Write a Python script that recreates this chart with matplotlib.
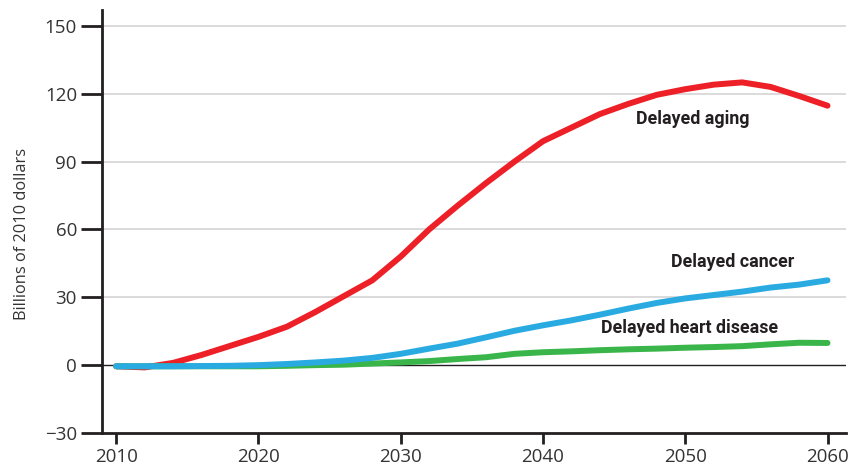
import matplotlib
matplotlib.use('Agg')
import matplotlib.pyplot as plt

# data (billions of 2010 dollars)
years = [2010, 2012, 2014, 2016, 2018, 2020, 2022, 2024, 2026, 2028, 2030, 2032, 2034,
         2036, 2038, 2040, 2042, 2044, 2046, 2048, 2050, 2052, 2054, 2056, 2058, 2060]
aging = [-0.5, -1, 1, 4.5, 8.5, 12.5, 17, 23.5, 30.5, 37.5, 48, 60, 70.5,
         80.5, 90, 99, 105, 111, 115.5, 119.5, 122, 124, 125, 123, 119, 114.7]
cancer = [-0.5, -0.5, -0.5, -0.4, -0.3, 0, 0.5, 1.2, 2, 3.2, 5, 7.3, 9.5,
          12.3, 15.2, 17.6, 19.8, 22.3, 25, 27.5, 29.5, 31, 32.5, 34.3, 35.6, 37.5]
heart = [-0.5, -0.5, -0.5, -0.5, -0.5, -0.5, -0.3, 0, 0.2, 0.7, 1.2, 1.8, 2.7,
         3.5, 5, 5.7, 6.1, 6.6, 7, 7.3, 7.7, 8, 8.4, 9.2, 9.9, 9.8]

y_ticks = [-30, 0, 30, 60, 90, 120, 150]
x_ticks = [2010, 2020, 2030, 2040, 2050, 2060]

text_col = '#333333'
label_col = '#231F20'

fig = plt.figure(figsize=(8.65, 4.71), dpi=100)
ax = fig.add_axes([102 / 865, 38 / 471, 744 / 865, 423 / 471])
ax.set_xlim(2009.0, 2061.3)
ax.set_ylim(-30, 157)

# gridlines
for t in y_ticks[2:]:
    ax.axhline(t, color='#d4d4d4', lw=1.2, zorder=1)
ax.axhline(0, color='#231F20', lw=1.0, zorder=1)

ax.plot(years, aging, color='#ED2028', lw=4.3, solid_capstyle='round', zorder=3)
ax.plot(years, heart, color='#39B54A', lw=4.3, solid_capstyle='round', zorder=3)
ax.plot(years, cancer, color='#29ABE2', lw=4.3, solid_capstyle='round', zorder=4)

# direct labels
lab_kw = dict(fontsize=12.8, fontweight='bold', color=label_col, ha='center', va='center',
              family='Roboto')
ax.text(2050.5, 109, 'Delayed aging', **lab_kw)
ax.text(2053.3, 45.5, 'Delayed cancer', **lab_kw)
ax.text(2050.3, 16.5, 'Delayed heart disease', **lab_kw)

for s in ['top', 'right']:
    ax.spines[s].set_visible(False)
for s in ['left', 'bottom']:
    ax.spines[s].set_color('#231F20')
    ax.spines[s].set_linewidth(2)

ax.set_yticks(y_ticks)
ax.set_yticklabels(['\u221230' if t < 0 else str(t) for t in y_ticks])
ax.set_xticks(x_ticks)
ax.tick_params(axis='y', length=15, width=2, color='#231F20', labelsize=13.5,
               labelcolor=text_col, pad=3)
ax.tick_params(axis='x', length=8, width=2, color='#231F20', labelsize=13.5,
               labelcolor=text_col, pad=3)
for lab in ax.get_xticklabels() + ax.get_yticklabels():
    lab.set_family('Open Sans')

ax.set_ylabel('Billions of 2010 dollars', fontsize=11.8, color=text_col, family='Open Sans')
ax.yaxis.set_label_coords(-0.097, 0.47)

plt.savefig('out.png', dpi=100)
plt.close()
